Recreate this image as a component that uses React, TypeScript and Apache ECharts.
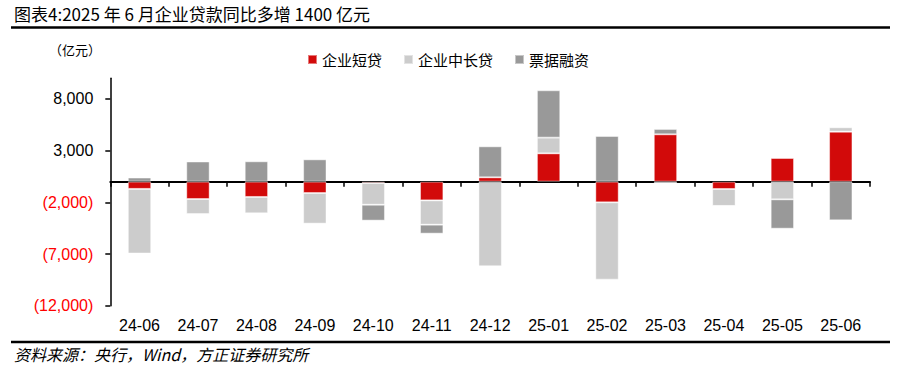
import React, { useEffect, useRef } from "react";
import * as echarts from "echarts";

const categories = ["24-06", "24-07", "24-08", "24-09", "24-10", "24-11", "24-12", "25-01", "25-02", "25-03", "25-04", "25-05", "25-06"];
const shortLoans = [-700, -1680, -1480, -1100, -130, -1810, 420, 2740, -2000, 4580, -710, 2290, 4840];
const midLongLoans = [-6250, -1450, -1580, -2960, -2100, -2350, -8190, 1520, -7480, -150, -1640, -1710, 420];
const billFinancing = [400, 1950, 1970, 2160, -1540, -870, 3000, 4580, 4420, 520, -30, -2840, -3740];
const yTicks = [-12000, -7000, -2000, 3000, 8000];

const seriesNames = ["企业短贷", "企业中长贷", "票据融资"];
const seriesColors = ["#D20A0A", "#CCCCCC", "#999999"];

const cjk = '"Noto Sans CJK SC", sans-serif';
const latin = '"Liberation Sans", Arial, sans-serif';

function fmt(v: number): string {
  const s = Math.abs(v).toLocaleString("en-US");
  return v < 0 ? `(${s})` : s;
}

export default function App() {
  const ref = useRef<HTMLDivElement>(null);
  useEffect(() => {
    if (!ref.current) return;
    const chart = echarts.init(ref.current, null, { renderer: "svg" });
    const data = [shortLoans, midLongLoans, billFinancing];
    chart.setOption({
      animation: false,
      backgroundColor: "#ffffff",
      grid: { left: 110.3, right: 28, top: 78.3, bottom: 72.3, containLabel: false, outerBoundsMode: "none" },
      legend: {
        left: 307,
        top: 52,
        padding: 0,
        itemWidth: 9,
        itemHeight: 9,
        itemGap: 21,
        icon: "rect",
        textStyle: { fontFamily: cjk, fontSize: 15, color: "#000" },
        data: seriesNames,
      },
      xAxis: {
        type: "category",
        data: categories,
        axisLine: { onZero: true, lineStyle: { color: "#000", width: 2 } },
        axisTick: { show: true, length: 5, lineStyle: { color: "#000", width: 1.5 } },
        axisLabel: { margin: 12, fontFamily: latin, fontSize: 16, color: "#000" },
        splitLine: { show: false },
      },
      yAxis: {
        type: "value",
        min: -12000,
        max: 10000,
        axisLine: { show: true, lineStyle: { color: "#000", width: 1.5 } },
        axisTick: { show: true, length: 5, customValues: yTicks, lineStyle: { color: "#000", width: 1.5 } },
        axisLabel: {
          customValues: yTicks,
          margin: 17,
          fontFamily: latin,
          fontSize: 16,
          formatter: (v: number) => fmt(v),
          color: (v: any) => (Number(v) < 0 ? "#FF0000" : "#000000"),
        },
        splitLine: { show: false },
      },
      series: seriesNames.map((name, i) => ({
        name,
        type: "bar",
        stack: "total",
        barWidth: "40%",
        data: data[i],
        itemStyle: { color: seriesColors[i], borderColor: "rgba(255,255,255,0.45)", borderWidth: 1 },
      })),
      graphic: [
        { type: "text", left: 14, top: 5, style: { text: "图表4:2025 年 6 月企业贷款同比多增 1400 亿元", fontFamily: cjk, fontSize: 17, fill: "#000" } },
        { type: "line", shape: { x1: 11, y1: 27.5, x2: 890, y2: 27.5 }, style: { stroke: "#000", lineWidth: 2.5 } },
        { type: "text", left: 49, top: 43, style: { text: "（亿元）", fontFamily: cjk, fontSize: 13, fill: "#000" } },
        { type: "line", shape: { x1: 11, y1: 342, x2: 890, y2: 342 }, style: { stroke: "#000", lineWidth: 2.5 } },
        { type: "text", left: 14, top: 346, style: { text: "资料来源：央行，Wind，方正证券研究所", fontFamily: cjk, fontSize: 16, fontStyle: "italic", fill: "#000" } },
      ],
    });
    return () => chart.dispose();
  }, []);
  return <div ref={ref} style={{ position: "fixed", left: 0, top: 0, width: 898, height: 378 }} />;
}
